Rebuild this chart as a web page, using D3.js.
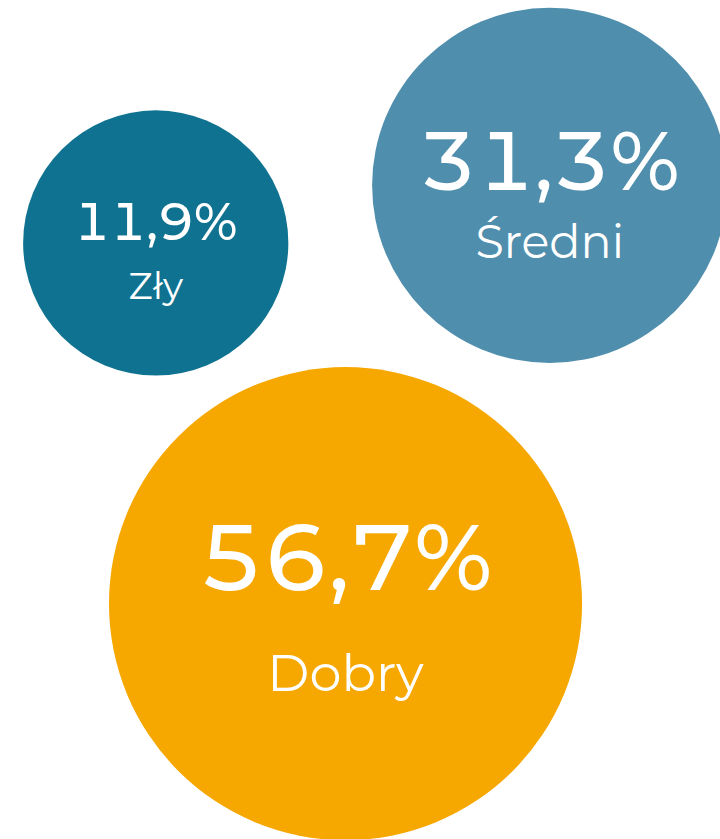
<!DOCTYPE html>
<html>
<head>
<meta charset="utf-8">
<script src="https://cdn.jsdelivr.net/npm/d3@7"></script>
<style>
  html, body { margin: 0; padding: 0; background: #fff; }
  text { font-family: Montserrat, 'DejaVu Sans', sans-serif; fill: #fff; }
  .value { font-variant-numeric: tabular-nums; font-feature-settings: "tnum"; }
</style>
</head>
<body>
<div id="root"></div>
<script>
var categories = ['Zły', 'Średni', 'Dobry'];
var values = [11.9, 31.3, 56.7];
var colors = ['#0f7290', '#4f8eac', '#f6a800'];

// layout: bubble centres as fractions of the canvas, text sizes per bubble
var centreX = [0.2163, 0.7635, 0.4799];
var centreY = [0.2896, 0.2209, 0.7195];
var valueFont = [51.5, 82, 92.5];
var labelFont = [37, 46, 51];
var valueDy = [-3, 5, -14];
var labelDy = [56, 73, 87];

var w = 720, h = 839;
var svg = d3.select('#root').append('svg').attr('width', w).attr('height', h);

var x = d3.scaleLinear().domain([0, 1]).range([0, w]);
var y = d3.scaleLinear().domain([0, 1]).range([0, h]);
var r = d3.scaleLinear().domain([0, 100]).range([105, 337]);
var fmt = function (v) { return d3.format('.1f')(v).replace('.', ',') + '%'; };

var bubbles = categories.map(function (c, i) {
    return { name: c, value: values[i], color: colors[i], i: i };
});

var gs = svg.selectAll('.bubble')
    .data(bubbles)
    .enter()
    .append('g')
    .attr('class', 'bubble')
    .attr('transform', function (d) { return 'translate(' + x(centreX[d.i]) + ',' + y(centreY[d.i]) + ')'; });

gs.append('circle')
    .attr('r', function (d) { return r(d.value); })
    .attr('fill', function (d) { return d.color; });

gs.append('text')
    .attr('class', 'value')
    .attr('text-anchor', 'middle')
    .attr('y', function (d) { return valueDy[d.i]; })
    .style('font-size', function (d) { return valueFont[d.i] + 'px'; })
    .style('font-weight', 500)
    .text(function (d) { return fmt(d.value); });

gs.append('text')
    .attr('text-anchor', 'middle')
    .attr('y', function (d) { return labelDy[d.i]; })
    .style('font-size', function (d) { return labelFont[d.i] + 'px'; })
    .style('font-weight', 400)
    .text(function (d) { return d.name; });
</script>
</body>
</html>
